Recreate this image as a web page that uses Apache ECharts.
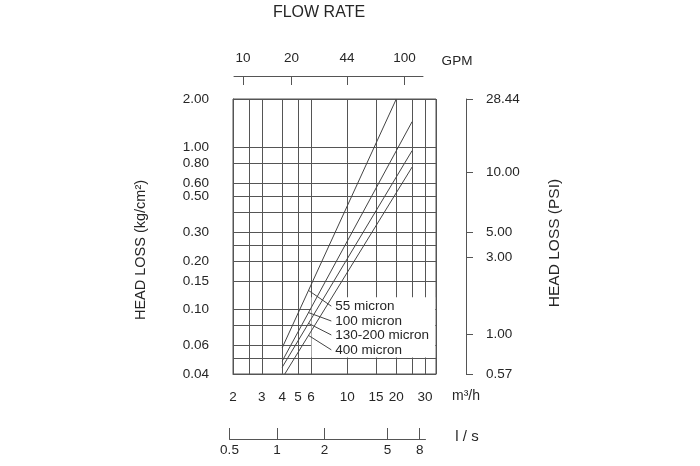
<!DOCTYPE html>
<html>
<head>
<meta charset="utf-8">
<script src="https://cdn.jsdelivr.net/npm/echarts@6/dist/echarts.min.js"></script>
<style>
html, body { margin: 0; padding: 0; background: #fff; }
#main { width: 700px; height: 466px; }
</style>
</head>
<body>
<div id="main"></div>
<script>
// 压损曲线: 流量 (m3/h) - 压损 (kg/cm2)
let curveNames = ['55 micron', '100 micron', '130-200 micron', '400 micron'];
let curveFlow = [[4, 20], [4, 25], [4, 25], [4.15, 25]];
let curveLoss = [[0.058, 2.0], [0.048, 1.45], [0.044, 0.96], [0.04, 0.76]];

// 标注引线: 从曲线上的流量点引到文字处
let leaderFromFlow = 5.8;
let leaderToFlow = 8.0;
let leaderToLoss = [0.105, 0.085, 0.0697, 0.0564];

// 主网格线与刻度文字
let flowGrid = [2, 2.5, 3, 4, 5, 6, 10, 15, 20, 25, 30, 35];
let flowLabels = [2, 3, 4, 5, 6, 10, 15, 20, 30];
let lossGrid = [0.04, 0.05, 0.06, 0.08, 0.1, 0.15, 0.2, 0.25, 0.3, 0.4, 0.5, 0.6, 0.8, 1, 2];
let lossLabels = [0.04, 0.06, 0.1, 0.15, 0.2, 0.3, 0.5, 0.6, 0.8, 1, 2];

// 副刻度
let gpmTicks = [10, 20, 44, 100];
let lpsTicks = [0.5, 1, 2, 5, 8];
let psiTicks = [0.5688, 1, 3, 4.28, 10, 28.44]; // "5.00" 在原图里印在约 4.3 psi 处
let psiLabels = ['0.57', '1.00', '3.00', '5.00', '10.00', '28.44'];

let font = "'Liberation Sans', Arial, sans-serif";
let textColor = '#262626';
let lineColor = '#555';

// 在对数坐标上按曲线两端插值
function lossAt(i, flow) {
    let f = curveFlow[i], l = curveLoss[i];
    let t = Math.log(flow / f[0]) / Math.log(f[1] / f[0]);
    return Math.exp(Math.log(l[0]) + t * Math.log(l[1] / l[0]));
}

let series = [];
// 标注文字下的白底
series.push({
    type: 'line',
    z: 1,
    data: [],
    silent: true,
    markArea: {
        silent: true,
        itemStyle: { color: '#fff' },
        data: [[{ coord: [6.05, 0.119] }, { coord: [34.6, 0.0505] }]]
    }
});
for (let i = 0; i < curveNames.length; i++) {
    series.push({
        name: curveNames[i],
        type: 'line',
        z: 3,
        symbol: 'none',
        lineStyle: { color: '#444', width: 1 },
        data: curveFlow[i].map((f, k) => [f, curveLoss[i][k]])
    });
    series.push({
        name: curveNames[i] + ' label',
        type: 'line',
        z: 3,
        symbol: 'none',
        lineStyle: { color: '#444', width: 1 },
        data: [[leaderFromFlow, lossAt(i, leaderFromFlow)], [leaderToFlow, leaderToLoss[i]]],
        endLabel: {
            show: true,
            formatter: curveNames[i],
            distance: 4,
            color: textColor,
            fontSize: 13.5,
            fontFamily: font
        }
    });
}

let myChart = echarts.init(document.getElementById('main'));
let option = {
    animation: false,
    backgroundColor: '#fff',
    textStyle: { fontFamily: font, color: textColor },
    grid: [
        { left: 233, top: 99, width: 203, height: 275, show: true, borderColor: lineColor, borderWidth: 1 },
        { left: 234, top: 75, width: 189, height: 1 },
        { left: 229.5, top: 438, width: 196, height: 1 }
    ],
    xAxis: [
        {
            gridIndex: 0,
            type: 'log',
            min: 2,
            max: 35,
            axisLine: { show: true, lineStyle: { color: lineColor } },
            axisTick: { show: false, customValues: flowGrid },
            splitLine: { show: true, lineStyle: { color: lineColor, width: 1 } },
            axisLabel: { customValues: flowLabels, margin: 16, fontSize: 13.5, color: textColor, fontFamily: font }
        },
        {
            gridIndex: 1,
            type: 'log',
            min: 8.8,
            max: 130,
            position: 'top',
            axisLine: { show: true, lineStyle: { color: lineColor } },
            axisTick: { show: true, inside: true, length: 9, customValues: gpmTicks, lineStyle: { color: lineColor } },
            splitLine: { show: false },
            axisLabel: { customValues: gpmTicks, margin: 10, fontSize: 13.5, color: textColor, fontFamily: font }
        },
        {
            gridIndex: 2,
            type: 'log',
            min: 0.5,
            max: 8.7,
            position: 'bottom',
            axisLine: { show: true, lineStyle: { color: lineColor } },
            axisTick: { show: true, inside: true, length: 11, customValues: lpsTicks, lineStyle: { color: lineColor } },
            splitLine: { show: false },
            axisLabel: { customValues: lpsTicks, margin: 4, fontSize: 13.5, color: textColor, fontFamily: font }
        }
    ],
    yAxis: [
        {
            gridIndex: 0,
            type: 'log',
            min: 0.04,
            max: 2,
            axisLine: { show: true, lineStyle: { color: lineColor } },
            axisTick: { show: false, customValues: lossGrid },
            splitLine: { show: true, lineStyle: { color: lineColor, width: 1 } },
            axisLabel: {
                customValues: lossLabels,
                margin: 24,
                fontSize: 13.5,
                color: textColor,
                fontFamily: font,
                formatter: v => Number(v).toFixed(2)
            }
        },
        {
            gridIndex: 0,
            type: 'log',
            min: 0.5688,
            max: 28.44,
            position: 'right',
            offset: 30,
            axisLine: { show: true, lineStyle: { color: lineColor } },
            axisTick: { show: true, length: 7, customValues: psiTicks, lineStyle: { color: lineColor } },
            splitLine: { show: false },
            axisLabel: {
                customValues: psiTicks,
                margin: 20,
                fontSize: 13.5,
                color: textColor,
                fontFamily: font,
                formatter: function (v) {
                    for (let i = 0; i < psiTicks.length; i++) {
                        if (Math.abs(psiTicks[i] - v) / psiTicks[i] < 0.01) return psiLabels[i];
                    }
                    return '';
                }
            }
        },
        { gridIndex: 1, type: 'value', show: false },
        { gridIndex: 2, type: 'value', show: false }
    ],
    graphic: [
        { type: 'text', x: 319, y: 13, style: { text: 'FLOW RATE', fontSize: 16, fontFamily: font, fill: textColor, align: 'center', verticalAlign: 'middle' } },
        { type: 'text', x: 457, y: 61, style: { text: 'GPM', fontSize: 13.5, fontFamily: font, fill: textColor, align: 'center', verticalAlign: 'middle' } },
        { type: 'text', x: 466, y: 396, style: { text: 'm³/h', fontSize: 14, fontFamily: font, fill: textColor, align: 'center', verticalAlign: 'middle' } },
        { type: 'text', x: 467, y: 437, style: { text: 'l / s', fontSize: 15, fontFamily: font, fill: textColor, align: 'center', verticalAlign: 'middle' } },
        { type: 'text', x: 141, y: 250, rotation: Math.PI / 2, style: { text: 'HEAD LOSS (kg/cm²)', fontSize: 14.5, fontFamily: font, fill: textColor, align: 'center', verticalAlign: 'middle' } },
        { type: 'text', x: 555, y: 243, rotation: Math.PI / 2, style: { text: 'HEAD LOSS (PSI)', fontSize: 15.5, fontFamily: font, fill: textColor, align: 'center', verticalAlign: 'middle' } }
    ],
    series: series
};
myChart.setOption(option);
</script>
</body>
</html>
